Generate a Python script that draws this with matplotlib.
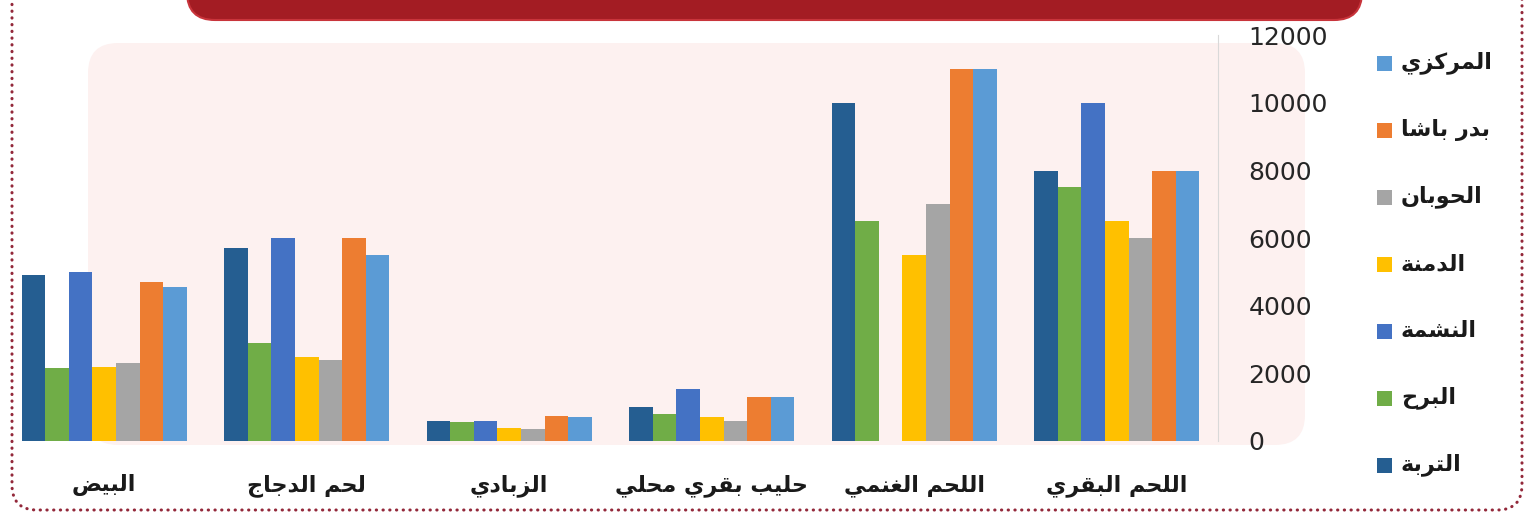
import numpy as np
import matplotlib
matplotlib.use("Agg")
import matplotlib.pyplot as plt
from matplotlib.patches import FancyBboxPatch, Rectangle


# categories in chart order, right to left
categories = ["اللحم البقري", "اللحم الغنمي", "حليب بقري محلي", "الزبادي", "لحم الدجاج", "البيض"]

# one list per area, same order as categories
turba = [8000, 10000, 1000, 600, 5700, 4900]
burh = [7500, 6500, 800, 550, 2900, 2150]
nashma = [10000, 0, 1550, 600, 6000, 5000]
damna = [6500, 5500, 700, 380, 2500, 2200]
hawban = [6000, 7000, 580, 350, 2400, 2300]
badr_basha = [8000, 11000, 1300, 750, 6000, 4700]
markazi = [8000, 11000, 1300, 700, 5500, 4550]

series_names = ["التربة", "البرح", "النشمة", "الدمنة", "الحوبان", "بدر باشا", "المركزي"]
series_values = [turba, burh, nashma, damna, hawban, badr_basha, markazi]
series_colors = ["#255E91", "#70AD47", "#4472C4", "#FFC000", "#A5A5A5", "#ED7D31", "#5B9BD5"]

y_ticks = [0, 2000, 4000, 6000, 8000, 10000, 12000]


# matplotlib has no arabic shaping, so pick the presentation forms by hand
# (isolated, final, initial, medial)
FORMS = {
    'ا': (0xFE8D, 0xFE8E),
    'ب': (0xFE8F, 0xFE90, 0xFE91, 0xFE92),
    'ة': (0xFE93, 0xFE94),
    'ت': (0xFE95, 0xFE96, 0xFE97, 0xFE98),
    'ج': (0xFE9D, 0xFE9E, 0xFE9F, 0xFEA0),
    'ح': (0xFEA1, 0xFEA2, 0xFEA3, 0xFEA4),
    'د': (0xFEA9, 0xFEAA),
    'ر': (0xFEAD, 0xFEAE),
    'ز': (0xFEAF, 0xFEB0),
    'ش': (0xFEB5, 0xFEB6, 0xFEB7, 0xFEB8),
    'ض': (0xFEBD, 0xFEBE, 0xFEBF, 0xFEC0),
    'غ': (0xFECD, 0xFECE, 0xFECF, 0xFED0),
    'ق': (0xFED5, 0xFED6, 0xFED7, 0xFED8),
    'ك': (0xFED9, 0xFEDA, 0xFEDB, 0xFEDC),
    'ل': (0xFEDD, 0xFEDE, 0xFEDF, 0xFEE0),
    'م': (0xFEE1, 0xFEE2, 0xFEE3, 0xFEE4),
    'ن': (0xFEE5, 0xFEE6, 0xFEE7, 0xFEE8),
    'و': (0xFEED, 0xFEEE),
    'ي': (0xFEF1, 0xFEF2, 0xFEF3, 0xFEF4),
}


def shape_ar(s):
    out = []
    for i, ch in enumerate(s):
        f = FORMS.get(ch)
        if f is None:
            out.append(ch)
            continue
        prev = s[i-1] if i > 0 else ''
        nxt = s[i+1] if i + 1 < len(s) else ''
        jp = prev in FORMS and len(FORMS[prev]) == 4
        jn = len(f) == 4 and nxt in FORMS
        if len(f) == 2:
            idx = 1 if jp else 0
        else:
            idx = (1 if jp else 0) + (2 if jn else 0)
            idx = {0: 0, 1: 1, 2: 2, 3: 3}[idx]
        out.append(chr(f[idx]))
    return ''.join(out)[::-1]


W, H = 1528, 515
fig = plt.figure(figsize=(W/100, H/100), dpi=100)

# background layer in pixel units
bg = fig.add_axes([0, 0, 1, 1], zorder=0)
bg.set_xlim(0, W)
bg.set_ylim(H, 0)
bg.axis('off')

bg.add_patch(FancyBboxPatch((88, 43), 1305-88, 445-43, boxstyle="round,pad=0,rounding_size=30",
                            fc="#FDF1F0", ec="none"))
# banner at the top (only its lower part is visible)
bg.add_patch(FancyBboxPatch((187, -80), 1362-187, 100, boxstyle="round,pad=0,rounding_size=28",
                            fc="#A31C23", ec="#C8343B", lw=1.5))
# dotted frame
frame = FancyBboxPatch((12, -60), 1522-12, 510+60, boxstyle="round,pad=0,rounding_size=25",
                       fill=False, ec="#93283A", lw=2.2, linestyle=(0, (0.1, 2.1)))
frame.set_capstyle('round')
bg.add_patch(frame)

# main chart
ax = fig.add_axes([3/W, 1-441/H, (1218-3)/W, (441-35.4)/H], zorder=1)
ax.patch.set_alpha(0)

n_ser = len(series_names)
bw = 0.1165
x = np.arange(len(categories))
for j in range(n_ser):
    ax.bar(x + (3 - j)*bw, series_values[j], width=bw, color=series_colors[j], zorder=2)

ax.set_xlim(5.5, -0.5)
ax.set_ylim(0, 12000)
ax.set_yticks(y_ticks)
ax.set_yticklabels([str(v) for v in y_ticks])
ax.yaxis.tick_right()
ax.tick_params(axis='y', length=0, pad=22, labelsize=18, labelcolor="#262626")
ax.set_xticks(x)
ax.set_xticklabels([shape_ar(c) for c in categories], fontsize=16, fontweight='bold',
                   color="#1A1A1A", family="DejaVu Sans")
ax.tick_params(axis='x', length=0, pad=24)
for side in ['top', 'left', 'bottom']:
    ax.spines[side].set_visible(False)
ax.spines['right'].set_color("#D9D9D9")
ax.spines['right'].set_linewidth(0.8)

# legend, top to bottom is the reverse of the series order
for k, j in enumerate(range(n_ser-1, -1, -1)):
    yc = 63 + 67*k
    bg.add_patch(Rectangle((1377, yc-7.5), 15, 15, fc=series_colors[j], ec="none"))
    bg.text(1401, yc, shape_ar(series_names[j]), ha='left', va='center', fontsize=16,
            fontweight='bold', color="#1A1A1A", family="DejaVu Sans")

plt.savefig("out.png", dpi=100)
